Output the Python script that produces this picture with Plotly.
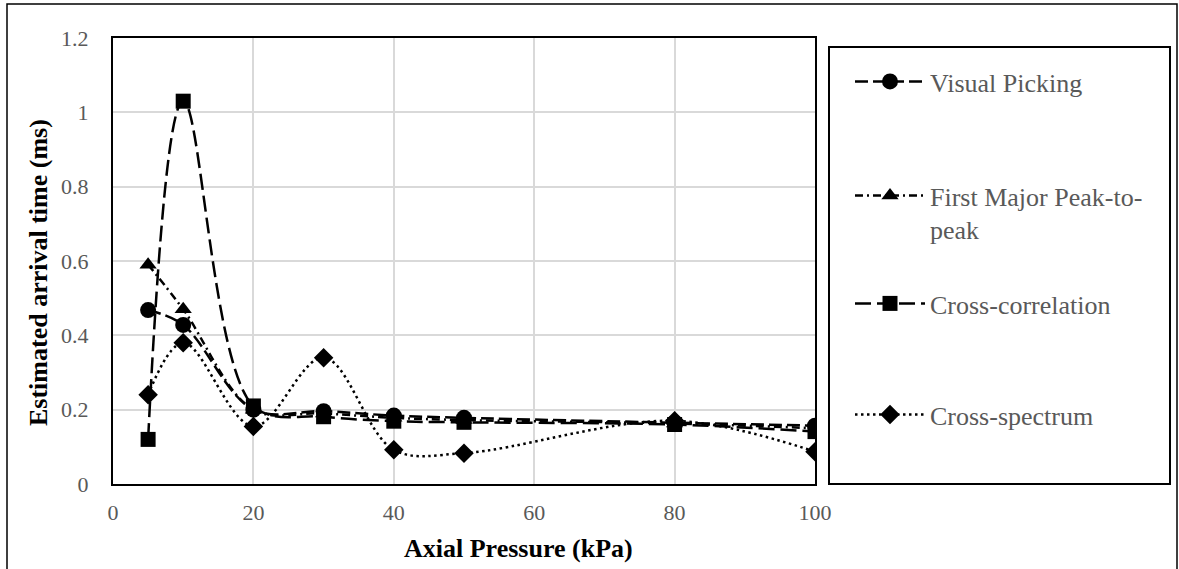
import plotly.graph_objects as go

pressure = [5, 10, 20, 30, 40, 50, 80, 100]
visual_picking = [0.468, 0.428, 0.20, 0.196, 0.184, 0.178, 0.165, 0.157]
first_major = [0.59, 0.47, 0.20, 0.19, 0.178, 0.172, 0.163, 0.150]
cross_correlation = [0.12, 1.03, 0.21, 0.181, 0.169, 0.166, 0.160, 0.141]
cross_spectrum = [0.24, 0.38, 0.155, 0.34, 0.092, 0.083, 0.170, 0.087]

names = ["Visual Picking", "First Major Peak-to-<br>peak", "Cross-correlation", "Cross-spectrum"]
series = [visual_picking, first_major, cross_correlation, cross_spectrum]
symbols = ["circle", "triangle-up", "square", "diamond"]
dashes = ["13px,5px", "8px,4px,2px,4px", "16px,6px", "2.5px,3.5px"]
msizes = [16, 15, 15, 15]

# layout geometry (px)
W, H = 1179, 569
L, R, T, B = 113, 364, 38, 85
PW, PH = W - L - R, H - T - B

def px_x(p):
    return (p - L) / PW

def px_y(p):
    return (H - B - p) / PH

FONT = "Liberation Serif"
GREY = "#595959"

fig = go.Figure()
legend_names = ["legend", "legend2", "legend3", "legend4"]
legend_ys = [83, 197, 305, 416]
for i in range(4):
    fig.add_trace(go.Scatter(
        x=pressure, y=series[i], name=names[i], mode="lines+markers",
        line=dict(color="black", width=2.5, dash=dashes[i], shape="spline", smoothing=1),
        marker=dict(symbol=symbols[i], size=msizes[i], color="black"),
        legend=legend_names[i],
    ))

legend_cfg = {}
for i, ln in enumerate(legend_names):
    legend_cfg[ln] = dict(
        x=px_x(850), xanchor="left", y=px_y(legend_ys[i] - 25), yanchor="top",
        font=dict(family=FONT, size=26, color=GREY), bgcolor="rgba(0,0,0,0)",
        borderwidth=0, valign="top", itemwidth=70,
    )

fig.update_layout(
    width=W, height=H, autosize=False,
    margin=dict(l=L, r=R, t=T, b=B),
    paper_bgcolor="white", plot_bgcolor="white",
    showlegend=True,
    xaxis=dict(range=[0, 100], dtick=20, tick0=0, showgrid=True, gridcolor="#d9d9d9", gridwidth=1.5,
               showline=True, linecolor="black", linewidth=2, mirror=True, zeroline=False,
               ticks="", ticklabelstandoff=8,
               tickfont=dict(family=FONT, size=22, color=GREY)),
    yaxis=dict(range=[0, 1.2], dtick=0.2, tick0=0, showgrid=True, gridcolor="#d9d9d9", gridwidth=1.5,
               showline=True, linecolor="black", linewidth=2, mirror=True, zeroline=False,
               ticks="", ticklabelstandoff=18,
               tickfont=dict(family=FONT, size=22, color=GREY)),
    shapes=[
        dict(type="rect", xref="paper", yref="paper", x0=px_x(829), x1=px_x(1170), y0=px_y(484), y1=px_y(47),
             line=dict(color="black", width=2), fillcolor="rgba(0,0,0,0)", layer="below"),
        dict(type="rect", xref="paper", yref="paper", x0=px_x(7), x1=px_x(1177), y0=px_y(590), y1=px_y(4),
             line=dict(color="black", width=1.5), fillcolor="rgba(0,0,0,0)", layer="below"),
    ],
    annotations=[
        dict(text="<b>Axial Pressure (kPa)</b>", xref="paper", yref="paper", x=px_x(518), y=px_y(548),
             xanchor="center", yanchor="middle", showarrow=False,
             font=dict(family=FONT, size=26, color="black")),
        dict(text="<b>Estimated arrival time (ms)</b>", xref="paper", yref="paper", x=px_x(38), y=px_y(273),
             xanchor="center", yanchor="middle", showarrow=False, textangle=-90,
             font=dict(family=FONT, size=26, color="black")),
    ],
    **legend_cfg,
)

fig.write_html("out.html", config={"displayModeBar": False},
               post_script="document.body.style.margin='0';")
